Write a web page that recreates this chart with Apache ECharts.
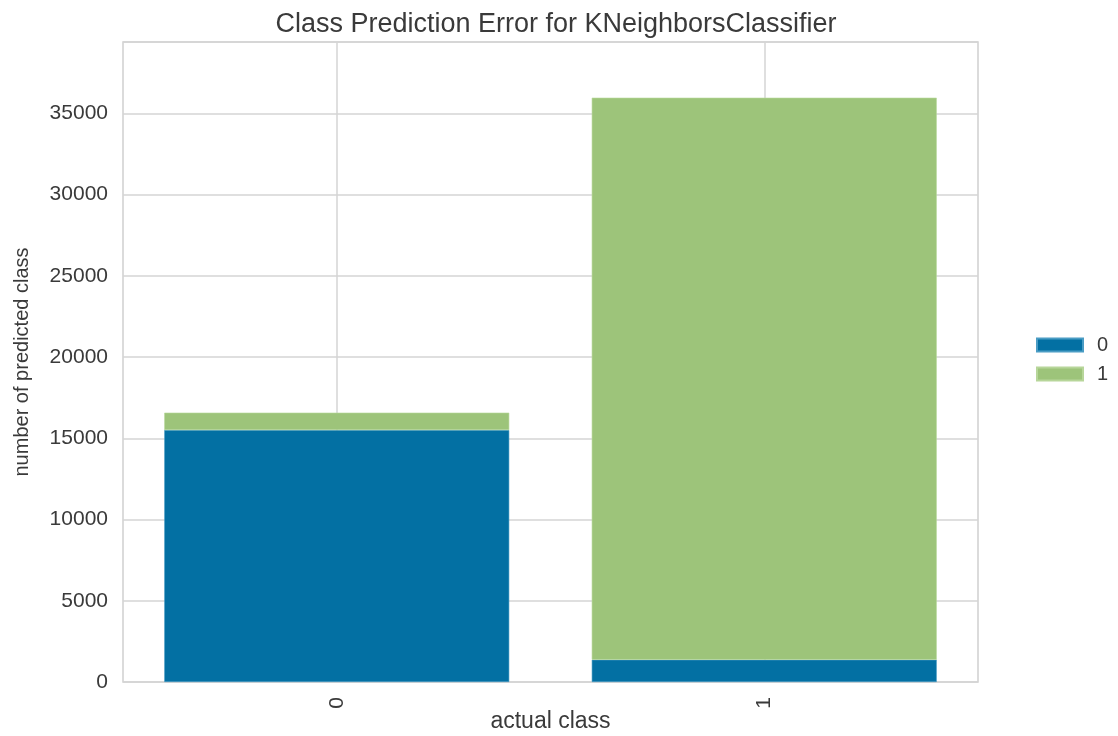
<!DOCTYPE html>
<html>
<head>
<meta charset="utf-8">
<script src="https://cdn.jsdelivr.net/npm/echarts@6/dist/echarts.min.js"></script>
<style>
  html, body { margin: 0; padding: 0; background: #fff; }
  #chart { width: 1118px; height: 736px; }
</style>
</head>
<body>
<div id="chart"></div>
<script>
// actual classes on the x axis
const classes = ['0', '1'];
// predicted counts stacked per actual class
const predicted0 = [15510, 1370];
const predicted1 = [1070, 34600];
const yTicks = [0, 5000, 10000, 15000, 20000, 25000, 30000, 35000];
// helper axis: vertical grid lines sit on the class centres (like matplotlib)
const gridSlots = ['', '0', '', '1', ''];

const font = 'Liberation Sans, Arial, sans-serif';
const chart = echarts.init(document.getElementById('chart'));

const option = {
    backgroundColor: '#fff',
    animation: false,
    title: {
        text: 'Class Prediction Error for KNeighborsClassifier',
        left: 551,
        textAlign: 'center',
        top: 6,
        textStyle: { fontFamily: font, fontSize: 27, fontWeight: 'normal', color: '#3a3a3a' }
    },
    legend: {
        orient: 'vertical',
        left: 1031,
        top: 330,
        itemWidth: 46,
        itemHeight: 13,
        itemGap: 9,
        icon: 'rect',
        textStyle: { fontFamily: font, fontSize: 20, lineHeight: 20, color: '#3a3a3a', padding: [0, 0, 0, 9] },
        data: ['0', '1']
    },
    grid: { left: 123, right: 140, top: 42, bottom: 54, containLabel: false, outerBoundsMode: 'none',
            show: true, borderColor: '#cfcfcf', borderWidth: 1.5 },
    xAxis: [
        {
            type: 'category',
            data: classes,
            name: 'actual class',
            nameLocation: 'middle',
            nameGap: 28,
            nameMoveOverlap: false,
            nameTextStyle: { fontFamily: font, fontSize: 23, color: '#3a3a3a' },
            axisLine: { show: false },
            axisTick: { show: false },
            axisLabel: { rotate: 90, margin: 15, fontFamily: font, fontSize: 21, color: '#3a3a3a' },
            splitLine: { show: false }
        },
        {
            type: 'category',
            data: gridSlots,
            boundaryGap: false,
            position: 'bottom',
            axisLine: { show: false },
            axisTick: { show: false },
            axisLabel: { show: false },
            splitLine: {
                show: true,
                interval: function (i) { return i === 1 || i === 3; },
                lineStyle: { color: '#d4d4d4', width: 1.5 }
            }
        }
    ],
    yAxis: {
        type: 'value',
        min: 0,
        max: 39400,
        interval: 5000,
        name: 'number of predicted class',
        nameLocation: 'middle',
        nameGap: 91,
        nameMoveOverlap: false,
        nameTextStyle: { fontFamily: font, fontSize: 20, color: '#3a3a3a' },
        axisLine: { show: false },
        axisTick: { show: false },
        axisLabel: {
            margin: 15, fontFamily: font, fontSize: 21, color: '#3a3a3a',
            formatter: function (v) { return yTicks.indexOf(v) >= 0 ? String(v) : ''; }
        },
        splitLine: { lineStyle: { color: '#d4d4d4', width: 1.5 } }
    },
    series: [
        {
            name: '0', type: 'bar', stack: 'total', data: predicted0, barWidth: '80.7%',
            itemStyle: { color: '#0370a3', borderColor: '#4a9cc4', borderWidth: 0.6 }
        },
        {
            name: '1', type: 'bar', stack: 'total', data: predicted1, barWidth: '80.7%',
            itemStyle: { color: '#9dc47a', borderColor: '#b7d69a', borderWidth: 0.6 }
        }
    ]
};

chart.setOption(option);
</script>
</body>
</html>
